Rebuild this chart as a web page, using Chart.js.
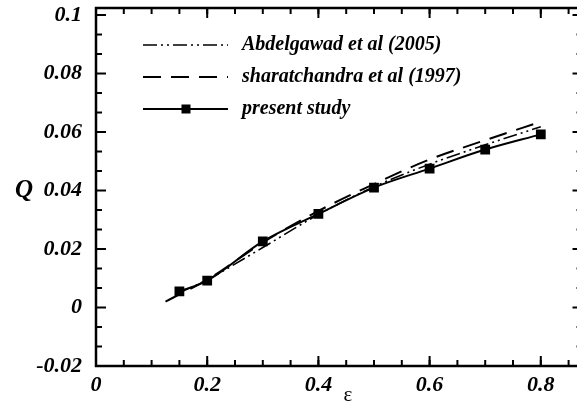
<!DOCTYPE html>
<html>
<head>
<meta charset="utf-8">
<script src="https://cdn.jsdelivr.net/npm/chart.js@4/dist/chart.umd.min.js"></script>
<style>
  html, body { margin: 0; padding: 0; background: #fff; overflow: hidden; }
  #wrap { width: 577px; height: 407px; overflow: hidden; }
  #inner { width: 590px; height: 407px; }
</style>
</head>
<body>
<div id="wrap"><div id="inner"><canvas id="chart"></canvas></div></div>
<script>
// data
let labels = ['Abdelgawad et al (2005)', 'sharatchandra et al (1997)', 'present study']
let epsAbdel = [0.15, 0.2, 0.3, 0.4, 0.5, 0.6, 0.7, 0.8]
let qAbdel = [0.0050, 0.0095, 0.0205, 0.0318, 0.0413, 0.0490, 0.0556, 0.0618]
let epsSharat = [0.125, 0.15, 0.2, 0.3, 0.4, 0.5, 0.6, 0.7, 0.8]
let qSharat = [0.0020, 0.0045, 0.0095, 0.0222, 0.0330, 0.0422, 0.0506, 0.0572, 0.0635]
let epsPresent = [0.15, 0.2, 0.3, 0.4, 0.5, 0.6, 0.7, 0.8]
let qPresent = [0.0055, 0.0092, 0.0226, 0.0320, 0.0410, 0.0475, 0.0540, 0.0592]

let xTickLabels = [0, 0.2, 0.4, 0.6, 0.8]
let yTickLabels = [-0.02, 0, 0.02, 0.04, 0.06, 0.08, 0.1]
let xMinorStep = 0.05
let yMinorPerMajor = 3

const FONT = '"Liberation Serif", "Times New Roman", serif'

function pts(xs, ys) {
  return xs.map((x, i) => ({ x: x, y: ys[i] }))
}

// inward ticks on all four sides + frame
const frameTicks = {
  id: 'frameTicks',
  afterDraw(chart) {
    const ctx = chart.ctx, a = chart.chartArea
    const xs = chart.scales.x, ys = chart.scales.y
    ctx.save()
    ctx.strokeStyle = '#000'
    ctx.lineWidth = 2
    function tick(v, axis, len) {
      if (axis === 'x') {
        let p = xs.getPixelForValue(v)
        if (p > a.right + 0.5) return
        ctx.beginPath(); ctx.moveTo(p, a.bottom); ctx.lineTo(p, a.bottom - len); ctx.stroke()
        ctx.beginPath(); ctx.moveTo(p, a.top); ctx.lineTo(p, a.top + len); ctx.stroke()
      } else {
        let p = ys.getPixelForValue(v)
        if (p < a.top - 0.5) return
        ctx.beginPath(); ctx.moveTo(a.left, p); ctx.lineTo(a.left + len, p); ctx.stroke()
        ctx.beginPath(); ctx.moveTo(a.right, p); ctx.lineTo(a.right - len, p); ctx.stroke()
      }
    }
    for (let v = 0; v <= xs.max + 1e-9; v += xMinorStep) tick(v, 'x', 6)
    xTickLabels.forEach(v => tick(v, 'x', 10))
    for (let i = 0; i < yTickLabels.length; i++) {
      tick(yTickLabels[i], 'y', 10)
      let step = 0.02 / yMinorPerMajor
      for (let k = 1; k < yMinorPerMajor; k++) tick(yTickLabels[i] + k * step, 'y', 6)
    }
    ctx.lineWidth = 2.5
    ctx.strokeRect(a.left, a.top, a.right - a.left, a.bottom - a.top)

    // axis titles
    ctx.fillStyle = '#000'
    ctx.textAlign = 'center'
    ctx.textBaseline = 'middle'
    ctx.font = 'bold italic 25px ' + FONT
    ctx.fillText('Q', 24, 191)
    ctx.font = '21px ' + FONT
    ctx.fillText('ε', 348, 395)
    ctx.restore()
  }
}

// legend drawn inside the plot
const innerLegend = {
  id: 'innerLegend',
  afterDatasetsDraw(chart) {
    const ctx = chart.ctx
    ctx.save()
    chart.data.datasets.forEach((ds, i) => {
      let y = 45 + i * 32
      ctx.strokeStyle = '#000'
      ctx.lineWidth = ds.borderWidth
      ctx.setLineDash(ds.borderDash || [])
      ctx.beginPath(); ctx.moveTo(143, y); ctx.lineTo(228, y); ctx.stroke()
      ctx.setLineDash([])
      if (ds.pointRadius > 0) {
        ctx.fillStyle = '#000'
        ctx.fillRect(186 - 4.5, y - 4.5, 9, 9)
      }
      ctx.fillStyle = '#000'
      ctx.font = 'bold italic 20px ' + FONT
      ctx.textAlign = 'left'
      ctx.textBaseline = 'middle'
      ctx.fillText(ds.label, 242, y)
    })
    ctx.restore()
  }
}

let ctx = document.getElementById('chart').getContext('2d')
let myChart = new Chart(ctx, {
  type: 'scatter',
  data: {
    datasets: [
      {
        label: labels[0],
        data: pts(epsAbdel, qAbdel),
        showLine: true,
        borderColor: '#000',
        backgroundColor: '#000',
        borderWidth: 1.6,
        borderDash: [14, 4, 2, 4, 2, 4],
        pointRadius: 0,
        cubicInterpolationMode: 'monotone'
      },
      {
        label: labels[1],
        data: pts(epsSharat, qSharat),
        showLine: true,
        borderColor: '#000',
        backgroundColor: '#000',
        borderWidth: 2,
        borderDash: [18, 10],
        pointRadius: 0,
        cubicInterpolationMode: 'monotone'
      },
      {
        label: labels[2],
        data: pts(epsPresent, qPresent),
        showLine: true,
        borderColor: '#000',
        backgroundColor: '#000',
        borderWidth: 2,
        pointStyle: 'rect',
        pointRadius: 5.5,
        cubicInterpolationMode: 'monotone'
      }
    ]
  },
  options: {
    responsive: true,
    maintainAspectRatio: false,
    animation: false,
    layout: { padding: { top: 8, right: 4, left: 0, bottom: 0 } },
    plugins: { legend: { display: false }, tooltip: { enabled: false } },
    scales: {
      x: {
        type: 'linear',
        min: 0,
        max: 0.875,
        grid: { display: false },
        border: { display: false },
        afterFit(scale) { scale.height = 41; scale.paddingLeft = 0; scale.paddingRight = 0 },
        afterBuildTicks(scale) { scale.ticks = xTickLabels.map(v => ({ value: v })) },
        ticks: {
          color: '#000',
          padding: -2,
          maxRotation: 0,
          font: { family: FONT, size: 22, weight: 'bold', style: 'italic' },
          callback: v => String(+v.toFixed(2))
        }
      },
      y: {
        type: 'linear',
        min: -0.02,
        max: 0.1024,
        grid: { display: false },
        border: { display: false },
        afterFit(scale) { scale.width = 96; scale.paddingTop = 0; scale.paddingBottom = 0 },
        afterBuildTicks(scale) { scale.ticks = yTickLabels.map(v => ({ value: v })) },
        ticks: {
          color: '#000',
          padding: 6,
          font: { family: FONT, size: 22, weight: 'bold', style: 'italic' },
          callback: v => String(+v.toFixed(2))
        }
      }
    }
  },
  plugins: [frameTicks, innerLegend]
})
</script>
</body>
</html>
